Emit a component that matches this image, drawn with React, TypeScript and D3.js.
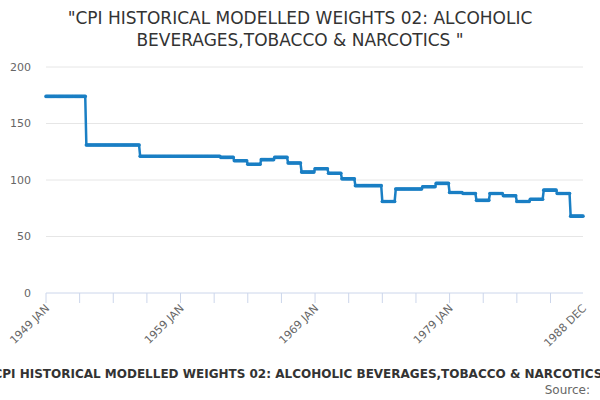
import React from 'react'
import * as d3 from 'd3'

const years = d3.range(1949, 1989)
const annualWeights = [
  174, 174, 174, 131, 131, 131, 131, 121, 121, 121, 121, 121, 121, 120, 117, 114, 118, 120, 115, 107,
  110, 106, 101, 95, 95, 81, 92, 92, 94, 97, 89, 88, 82, 88, 86, 81, 83, 91, 88, 68,
]
const yTicks = [0, 50, 100, 150, 200]
const MONTHS = ['JAN', 'FEB', 'MAR', 'APR', 'MAY', 'JUN', 'JUL', 'AUG', 'SEP', 'OCT', 'NOV', 'DEC']

// one point per month, each year's weight held for its twelve months
const series = years.flatMap((y, i) => MONTHS.map((_, m) => ({ idx: i * 12 + m, year: y, month: m, value: annualWeights[i] })))

export default function App() {
  const width = 600
  const height = 400
  const margin = { top: 67, right: 17, bottom: 107, left: 46 }
  const innerW = width - margin.left - margin.right
  const innerH = height - margin.top - margin.bottom

  const x = d3.scaleLinear().domain([0, series.length - 1]).range([0, innerW])
  const y = d3.scaleLinear().domain([0, 200]).range([innerH, 0])
  const line = d3.line<typeof series[0]>().x((d) => x(d.idx)).y((d) => y(d.value))

  const tickIdx = d3.range(0, series.length, 30)
  const labelIdx = [0, 120, 240, 360, series.length - 1]
  const font = 'DejaVu Sans, sans-serif'
  const color = '#1a7fc4'

  return (
    <svg width={width} height={height} style={{ position: 'absolute', left: 0, top: 0, fontFamily: font }}>
      <rect width={width} height={height} fill="#fff" />
      <text x={300} y={24} textAnchor="middle" fontSize={17} fill="#333">"CPI HISTORICAL MODELLED WEIGHTS 02: ALCOHOLIC</text>
      <text x={300} y={46} textAnchor="middle" fontSize={17} fill="#333">BEVERAGES,TOBACCO &amp; NARCOTICS "</text>
      <g transform={`translate(${margin.left},${margin.top})`}>
        {yTicks.map((t) => (
          <g key={t}>
            {t > 0 && <line x1={0} x2={innerW} y1={y(t)} y2={y(t)} stroke="#e6e6e6" />}
            <text x={-15} y={y(t)} dy="0.35em" textAnchor="end" fontSize={11} fill="#666">{t}</text>
          </g>
        ))}
        <line x1={0} x2={innerW} y1={innerH} y2={innerH} stroke="#ccd6eb" />
        {tickIdx.map((i) => (
          <line key={i} x1={x(i)} x2={x(i)} y1={innerH} y2={innerH + 10} stroke="#ccd6eb" />
        ))}
        {labelIdx.map((i) => (
          <text key={i} transform={`translate(${x(i) + 4},${innerH + 16}) rotate(-45)`} textAnchor="end" fontSize={11} fill="#666">
            {series[i].year} {MONTHS[series[i].month]}
          </text>
        ))}
        <path d={line(series) || ''} fill="none" stroke={color} strokeWidth={2.5} />
        {series.map((d) => (
          <circle key={d.idx} cx={x(d.idx)} cy={y(d.value)} r={1.8} fill={color} />
        ))}
      </g>
      <text x={300} y={378} textAnchor="middle" fontSize={12} fontWeight="bold" fill="#333">
        "CPI HISTORICAL MODELLED WEIGHTS 02: ALCOHOLIC BEVERAGES,TOBACCO &amp; NARCOTICS "
      </text>
      <text x={590} y={394} textAnchor="end" fontSize={12} fill="#666">Source:</text>
    </svg>
  )
}
